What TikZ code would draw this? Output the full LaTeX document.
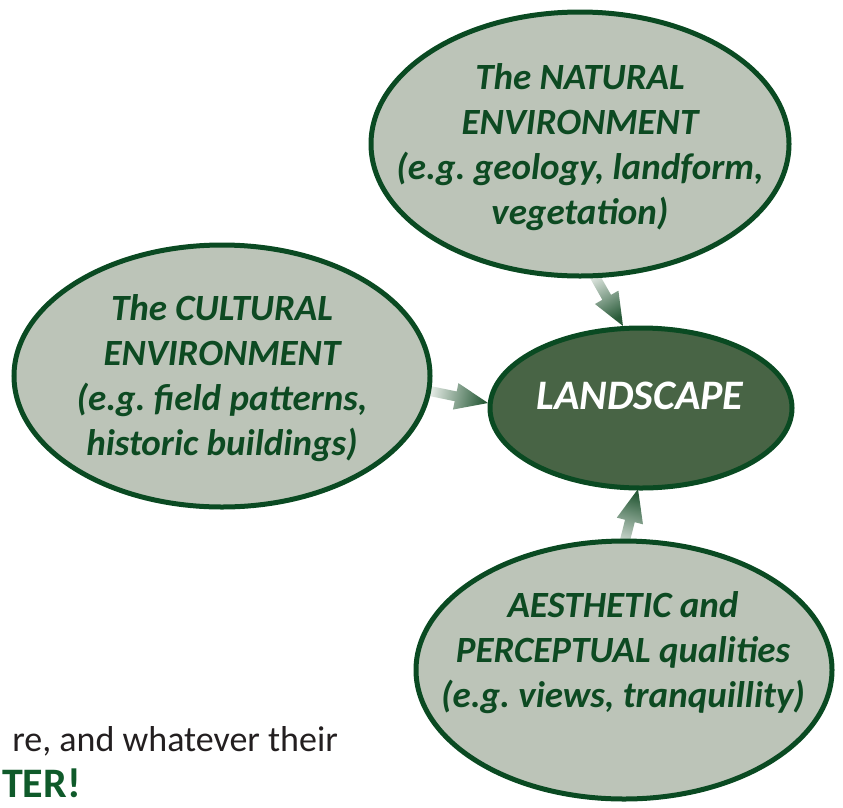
\documentclass[tikz,border=0pt]{standalone}
\usepackage{fontspec}
\setmainfont{Carlito}
\usetikzlibrary{shapes.geometric,calc}
\definecolor{ellfill}{HTML}{BCC4B8}
\definecolor{ellline}{HTML}{0A4A22}
\definecolor{landfill}{HTML}{486445}
\definecolor{txtgreen}{HTML}{0D4A22}
\definecolor{arrlight}{HTML}{EEF2EE}
\definecolor{arrdark}{HTML}{285A38}
\definecolor{bodygray}{HTML}{231F20}
\definecolor{headgreen}{HTML}{0F5A2A}
\newcommand\shadedarrow[4]{%
  \coordinate (#4b) at ($(#2)!33pt!(#1)$);
  \shade[top color=arrdark, bottom color=arrlight, shading angle=#3]
    ($(#1)!5pt!90:(#2)$) -- ($(#4b)!5pt!90:(#2)$) -- ($(#4b)!13.5pt!90:(#2)$)
    -- (#2) -- ($(#4b)!13.5pt!-90:(#2)$) -- ($(#4b)!5pt!-90:(#2)$)
    -- ($(#1)!5pt!-90:(#2)$) -- cycle;
}
\frenchspacing
\begin{document}
\begin{tikzpicture}[x=1pt,y=-1pt,
  bubble/.style={ellipse, draw=ellline, line width=5pt, fill=ellfill, inner sep=0pt},
  btext/.style={text=txtgreen, font=\fontsize{37}{45}\selectfont\bfseries\itshape, align=center, inner sep=0pt},
  landbubble/.style={ellipse, draw=ellline, line width=5pt, fill=landfill, inner sep=0pt},
  landtext/.style={text=white, font=\fontsize{42}{48}\selectfont\bfseries\itshape, inner sep=0pt},
  bodytext/.style={text=bodygray, font=\fontsize{36}{42}\selectfont, inner sep=0pt},
  headtext/.style={text=headgreen, font=\fontsize{42}{48}\selectfont\bfseries, inner sep=0pt}
]
\useasboundingbox (0,0) rectangle (843,807);
% arrow end points
\coordinate (a1tail) at (590,268);
\coordinate (a1tip) at (623,326);
\coordinate (a2tail) at (425,390);
\coordinate (a2tip) at (488,403);
\coordinate (a3tail) at (621,556);
\coordinate (a3tip) at (638,489);
\shadedarrow{a1tail}{a1tip}{-150}{a1}
\shadedarrow{a2tail}{a2tip}{-101.7}{a2}
\shadedarrow{a3tail}{a3tip}{-16.7}{a3}
% bubbles
\node[bubble, minimum width=418pt, minimum height=264pt] (nat) at (580,144) {};
\node[btext] (nattext) at (580,147) {The NATURAL\\ENVIRONMENT\\(e.g. geology, landform,\\vegetation)};
\node[bubble, minimum width=416pt, minimum height=262pt] (cul) at (222,376) {};
\node[btext] (cultext) at (222,378) {The CULTURAL\\ENVIRONMENT\\(e.g. field patterns,\\historic buildings)};
\node[bubble, minimum width=416pt, minimum height=258pt] (aes) at (624,670) {};
\node[btext] (aestext) at (623,653) {AESTHETIC and\\PERCEPTUAL qualities\\(e.g. views, tranquillity)};
\node[landbubble, minimum width=302pt, minimum height=160pt] (land) at (641,408) {};
\node[landtext] (landtext) at (640,396) {LANDSCAPE};
% bottom-left text fragments
\node[bodytext, anchor=base east] (body) at (338,751) {re, and whatever their};
\node[headtext, anchor=base west] (head) at (2,797) {TER!};
\end{tikzpicture}
\end{document}
